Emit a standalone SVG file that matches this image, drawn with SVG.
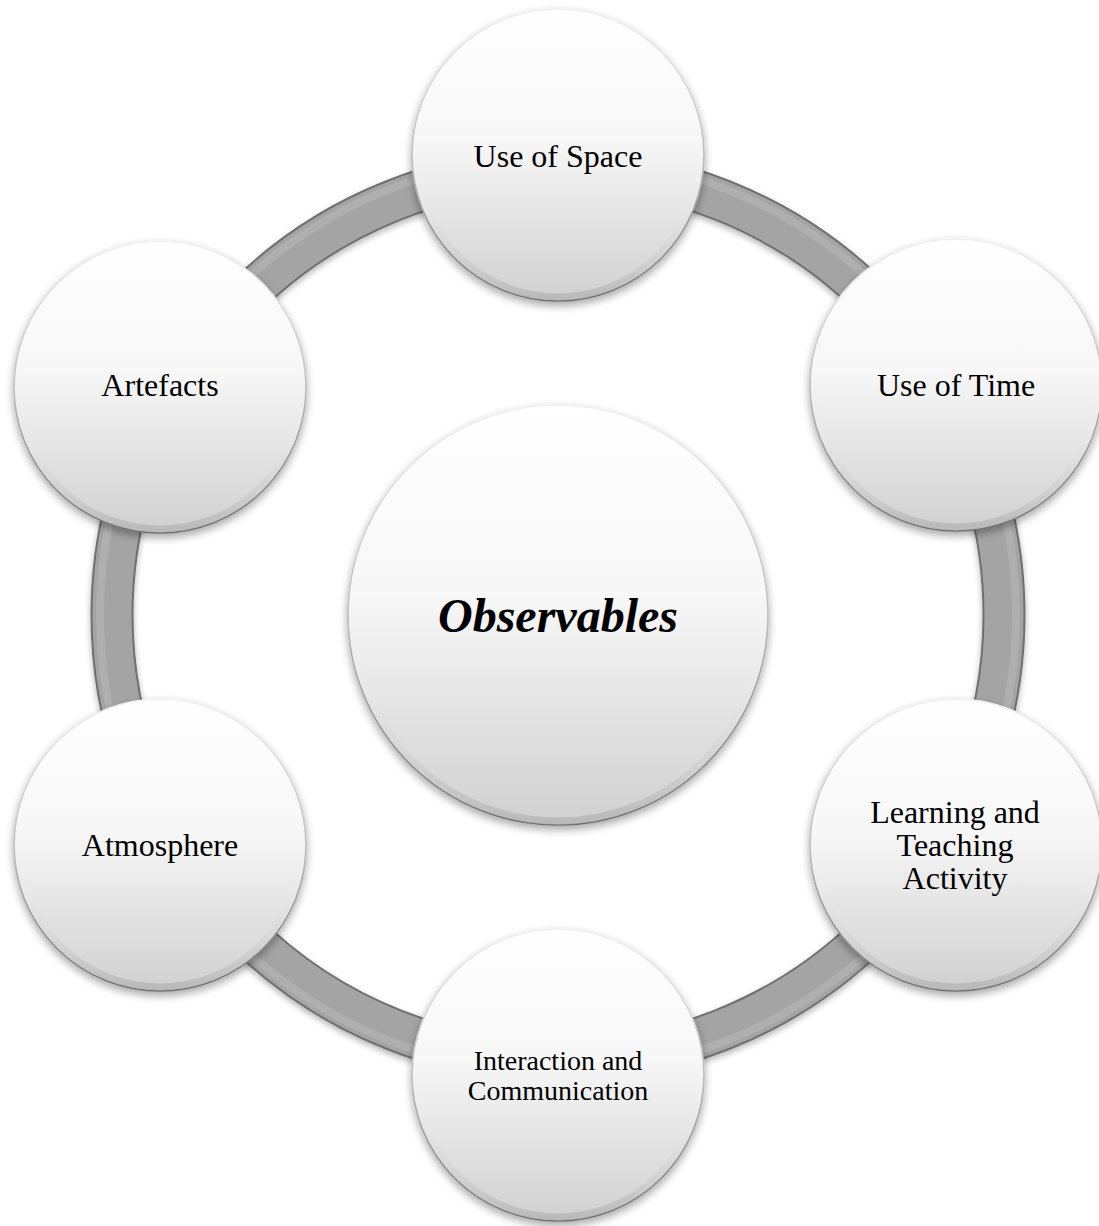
<svg xmlns="http://www.w3.org/2000/svg" width="1099" height="1226" viewBox="0 0 1099 1226">
<style>
.node{fill:url(#fillG);stroke:url(#rimG);stroke-width:1.6;filter:url(#shadow)}
.bevel{fill:none;stroke:url(#bevelG);stroke-width:7}
.lbl{font-family:"Liberation Serif","Times New Roman",serif;font-size:32px;fill:#000;text-anchor:middle}
.sm{font-size:28px}
.main{font-size:48px;font-weight:bold;font-style:italic}
</style>
<defs>
<linearGradient id="fillG" x1="0" y1="0" x2="0" y2="1">
<stop offset="0" stop-color="#ffffff"/>
<stop offset="0.45" stop-color="#f7f7f7"/>
<stop offset="1" stop-color="#d0d0d0"/>
</linearGradient>
<linearGradient id="rimG" x1="0" y1="0" x2="0" y2="1">
<stop offset="0" stop-color="#f0f0f0"/>
<stop offset="0.5" stop-color="#bdbdbd"/>
<stop offset="1" stop-color="#6e6e6e"/>
</linearGradient>
<linearGradient id="bevelG" x1="0" y1="0" x2="0" y2="1">
<stop offset="0" stop-color="#ffffff" stop-opacity="0"/>
<stop offset="0.55" stop-color="#ffffff" stop-opacity="0"/>
<stop offset="1" stop-color="#b0b0b0" stop-opacity="0.7"/>
</linearGradient>
<filter id="shadow" x="-20%" y="-20%" width="140%" height="140%">
<feGaussianBlur in="SourceAlpha" stdDeviation="4"/>
<feOffset dy="4" result="b"/>
<feComponentTransfer><feFuncA type="linear" slope="0.35"/></feComponentTransfer>
<feMerge><feMergeNode/><feMergeNode in="SourceGraphic"/></feMerge>
</filter>
<filter id="ringShadow" x="-10%" y="-10%" width="120%" height="120%">
<feGaussianBlur in="SourceAlpha" stdDeviation="3"/>
<feOffset dy="3"/>
<feComponentTransfer><feFuncA type="linear" slope="0.3"/></feComponentTransfer>
<feMerge><feMergeNode/><feMergeNode in="SourceGraphic"/></feMerge>
</filter>
</defs>
<rect width="1099" height="1226" fill="#ffffff"/>
<g id="connectors">
<g filter="url(#ringShadow)">
<circle cx="558" cy="615" r="446" fill="none" stroke="#6f6f6f" stroke-width="43"/>
<circle cx="558" cy="615" r="446" fill="none" stroke="#a4a4a4" stroke-width="39"/>
<circle cx="558" cy="615" r="458" fill="none" stroke="#b4b4b4" stroke-width="8" stroke-opacity="0.7"/>
</g>
</g>
<g id="center">
<circle class="node" cx="558" cy="615" r="210"/>
<circle class="bevel" cx="558" cy="615" r="206"/>
<text class="lbl main" x="558" y="632">Observables</text>
</g>
<g id="use-of-space">
<circle class="node" cx="558" cy="155" r="146"/>
<circle class="bevel" cx="558" cy="155" r="142"/>
<text class="lbl" x="558" y="167">Use of Space</text>
</g>
<g id="use-of-time">
<circle class="node" cx="956" cy="385" r="146"/>
<circle class="bevel" cx="956" cy="385" r="142"/>
<text class="lbl" x="956" y="396">Use of Time</text>
</g>
<g id="learning-teaching">
<circle class="node" cx="956" cy="845" r="146"/>
<circle class="bevel" cx="956" cy="845" r="142"/>
<text class="lbl" x="955" y="823">Learning and</text>
<text class="lbl" x="955" y="856">Teaching</text>
<text class="lbl" x="955" y="889">Activity</text>
</g>
<g id="interaction">
<circle class="node" cx="558" cy="1075" r="146"/>
<circle class="bevel" cx="558" cy="1075" r="142"/>
<text class="lbl sm" x="558" y="1070">Interaction and</text>
<text class="lbl sm" x="558" y="1100">Communication</text>
</g>
<g id="atmosphere">
<circle class="node" cx="160" cy="845" r="146"/>
<circle class="bevel" cx="160" cy="845" r="142"/>
<text class="lbl" x="160" y="856">Atmosphere</text>
</g>
<g id="artefacts">
<circle class="node" cx="160" cy="387" r="146"/>
<circle class="bevel" cx="160" cy="387" r="142"/>
<text class="lbl" x="160" y="396">Artefacts</text>
</g>
</svg>
